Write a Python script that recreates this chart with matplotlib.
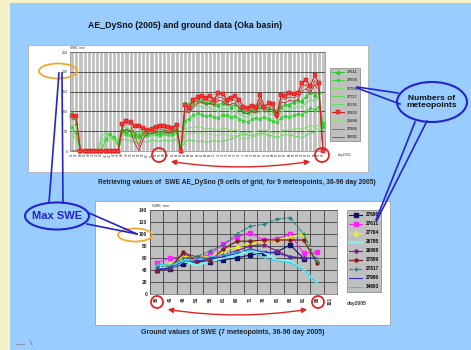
import matplotlib.pyplot as plt
from matplotlib.patches import Rectangle, Ellipse, FancyArrowPatch

plt.rcParams['font.family'] = ['Liberation Sans', 'DejaVu Sans']

W, H = 471, 350

# ---- upper chart: AE_DySno SWE, days 36-96 of 2005 ----
top_days = list(range(36, 97))
top_names = ['27611', '27606', '27704', '27717', '26795', '27603', '26898', '27906', '34601']

swe_27611 = [95, 70, 0, 0, 0, 0, 0, 0, 0, 0, 0, 0,
             55, 50, 52, 45, 40, 48, 45, 52, 50, 48, 52, 50, 48, 55, 0,
             120, 118, 125, 128, 126, 122, 124, 118, 116, 122, 120, 112, 118, 108, 100, 98, 104,
             106, 110, 114, 108, 104, 100, 112, 118, 116, 124, 128, 126, 138, 148, 142, 150, 62]
swe_27606 = [60, 45, 0, 0, 0, 0, 0, 0, 30, 42, 35, 20,
             48, 44, 40, 38, 35, 42, 40, 46, 44, 40, 45, 44, 42, 48, 0,
             75, 82, 90, 95, 92, 88, 90, 86, 84, 92, 90, 85, 88, 80, 76, 74, 80,
             84, 82, 86, 80, 76, 72, 84, 88, 86, 90, 94, 92, 100, 108, 104, 112, 70]
swe_27704 = [50, 40, 0, 0, 0, 0, 0, 20, 38, 45, 30, 15,
             40, 38, 35, 32, 30, 36, 34, 40, 38, 35, 40, 38, 36, 42, 0,
             55, 60, 58, 62, 60, 56, 58, 54, 52, 58, 56, 50, 54, 48, 45, 44, 48,
             50, 52, 55, 50, 46, 44, 50, 54, 52, 56, 58, 55, 60, 64, 62, 66, 75]
swe_27717 = [0, 0, 0, 0, 0, 0, 0, 0, 0, 0, 0, 0,
             30, 28, 25, 22, 20, 25, 22, 28, 26, 24, 28, 26, 25, 30, 0,
             25, 28, 26, 24, 25, 22, 24, 26, 24, 25, 28, 30, 35, 40, 42, 40, 38,
             42, 45, 44, 40, 38, 35, 38, 42, 40, 38, 36, 34, 40, 45, 48, 50, 55]
swe_26795 = [40, 30, 0, 0, 0, 0, 0, 35, 48, 40, 25, 30,
             60, 58, 55, 50, 46, 54, 50, 60, 62, 58, 62, 58, 55, 65, 0,
             95, 100, 110, 115, 112, 108, 110, 104, 100, 108, 106, 98, 102, 94, 88, 86, 92,
             96, 98, 102, 96, 92, 88, 98, 104, 102, 108, 112, 110, 120, 130, 126, 135, 65]
swe_27603 = [88, 88, 0, 0, 0, 0, 0, 0, 0, 0, 0, 0,
             68, 76, 72, 62, 64, 58, 52, 56, 60, 64, 62, 60, 58, 66, 0,
             116, 108, 130, 136, 140, 134, 138, 130, 146, 144, 130, 134, 140, 128, 112, 108, 114,
             110, 141, 112, 120, 118, 91, 142, 140, 146, 144, 146, 172, 180, 163, 192, 172, 0]
swe_26898 = [0, 0, 0, 0, 0, 0, 0, 0, 20, 32, 28, 10,
             45, 42, 38, 35, 30, 38, 36, 42, 40, 38, 42, 40, 38, 45, 0,
             40, 45, 44, 48, 46, 42, 44, 40, 38, 44, 42, 36, 40, 34, 30, 32, 35,
             38, 40, 42, 38, 34, 32, 38, 42, 40, 44, 46, 44, 50, 55, 52, 58, 60]
swe_27906 = [80, 80, 0, 0, 0, 0, 0, 0, 0, 0, 0, 0,
             60, 70, 66, 40, 10, 45, 50, 48, 52, 56, 54, 50, 52, 58, 0,
             106, 100, 120, 128, 132, 126, 128, 122, 136, 134, 122, 126, 130, 118, 104, 100, 106,
             102, 130, 104, 112, 110, 84, 132, 130, 136, 134, 138, 160, 168, 152, 178, 162, 0]
swe_34601 = [0, 0, 0, 0, 0, 0, 0, 0, 0, 0, 0, 0,
             50, 55, 50, 20, 0, 30, 45, 44, 48, 50, 48, 46, 48, 52, 0,
             100, 96, 112, 120, 124, 118, 120, 116, 128, 126, 116, 118, 122, 110, 96, 94, 100,
             96, 122, 98, 106, 104, 80, 124, 122, 128, 126, 130, 150, 158, 146, 168, 155, 0]
top_values = [swe_27611, swe_27606, swe_27704, swe_27717, swe_26795,
              swe_27603, swe_26898, swe_27906, swe_34601]
top_yticks = [0, 50, 100, 150, 200, 250]

# ---- lower chart: ground SWE ----
bot_days = [36, 41, 46, 51, 56, 61, 66, 71, 76, 81, 86, 91, 96, 101]
bot_names = ['27606', '27611', '27704', '26795', '26898', '27809', '27817', '27906', '34603']
g_27606 = [40, 42, 50, 54, 54, 57, 60, 65, 68, 70, 82, 59]
g_27611 = [52, 60, 62, 60, 66, 84, 95, 102, 90, 92, 100, 68, 70]
g_27704 = [45, 50, 62, 62, 62, 72, 78, 85, 88, 90, 95, 100, 55]
g_26795 = [45, 42, 55, 48, 55, 60, 65, 72, 70, 56, 55, 40, 18]
g_26898 = [38, 45, 68, 62, 60, 65, 72, 80, 82, 72, 62, 60]
g_27809 = [40, 42, 70, 55, 55, 75, 88, 88, 90, 90, 90, 90, 52]
g_27817 = [45, 47, 60, 62, 72, 82, 100, 113, 116, 125, 127, 100, 55]
g_27906 = [42, 42, 55, 55, 58, 62, 68, 75, 70, 68, 62, 60, 60]
g_34603 = [50, 48, 55, 58, 62, 65, 70, 72, 60, 55, 52, 40, 18]
bot_values = [g_27606, g_27611, g_27704, g_26795, g_26898, g_27809, g_27817, g_27906, g_34603]
bot_yticks = [0, 20, 40, 60, 80, 100, 120, 140]


def place(l, t, r, b):
    return [l / W, 1 - b / H, (r - l) / W, (b - t) / H]


fig = plt.figure(figsize=(W / 100, H / 100), dpi=100)
fig.patch.set_facecolor('#f4f2c6')

# background layer (pixel coords, y down)
bg = fig.add_axes([0, 0, 1, 1], zorder=-5)
bg.set_xlim(0, W)
bg.set_ylim(H, 0)
bg.axis('off')
bg.add_patch(Rectangle((10, 3), W - 10, H - 3, facecolor='#99ccff', edgecolor='none'))
bg.add_patch(Rectangle((28, 45), 340, 127, facecolor='white', edgecolor='#b0b0b0', lw=0.6))
bg.add_patch(Rectangle((95, 201), 295, 124, facecolor='white', edgecolor='#a0a0a0', lw=0.6))
bg.text(185, 25, 'AE_DySno (2005) and ground data (Oka basin)', ha='center', va='center',
        fontsize=6.3, weight='bold', color='#111111')
bg.text(237, 183, 'Retrieving values of  SWE AE_DySno (9 cells of grid, for 9 meteopoints, 36-96 day 2005)',
        ha='center', va='center', fontsize=4.8, weight='bold', color='#222222')
bg.text(233, 333, 'Ground values of SWE (7 meteopoints, 36-96 day 2005)', ha='center', va='center',
        fontsize=5, weight='bold', color='#222222')
bg.text(70, 47.5, 'SWE, mm', fontsize=2.3, va='center', color='#333333')
bg.text(338, 155, 'day2005', fontsize=2.5, va='center', color='#333333')
bg.text(152, 205.5, 'SWE, mm', fontsize=2.8, va='center', color='#333333')
bg.text(347, 303, 'day2005', fontsize=3.6, va='center', weight='bold', color='#333333')
bg.plot([16, 24], [344, 344], color='#8899aa', lw=0.8)
bg.plot([30, 32], [340, 345], color='#8899aa', lw=0.8)

# ---- upper chart ----
ax1 = fig.add_axes(place(70, 52, 325, 151))
ax1.set_facecolor('#c0c0c0')
xs = list(range(len(top_days)))
top_style = {
    '27611': dict(color='#33c433', marker='^', ms=2.2, lw=0.7),
    '27606': dict(color='#3fd23f', marker='s', ms=1.8, lw=0.7),
    '27704': dict(color='#7ee060', marker=None, lw=0.7),
    '27717': dict(color='#55dd55', marker=None, lw=0.7),
    '26795': dict(color='#66e066', marker=None, lw=0.7),
    '27603': dict(color='#cc2020', marker='s', ms=2.2, lw=0.8, mfc='#ff3030', mec='#aa1010', mew=0.3),
    '26898': dict(color='#88e070', marker=None, lw=0.6),
    '27906': dict(color='#dd5040', marker=None, lw=0.7),
    '34601': dict(color='#b03030', marker=None, lw=0.6),
}
order = [2, 3, 4, 6, 1, 0, 8, 7, 5]
for i in order:
    ax1.plot(xs, top_values[i], label=top_names[i], clip_on=False, **top_style[top_names[i]])
ax1.set_xlim(-0.5, len(top_days) - 0.5)
ax1.set_ylim(0, 250)
ax1.set_yticks(top_yticks)
ax1.set_yticklabels([str(v) for v in top_yticks], fontsize=2.6)
ax1.set_xticks(xs)
ax1.set_xticklabels([str(d) for d in top_days], rotation=90, fontsize=2.2)
ax1.set_xticks([i - 0.5 for i in range(len(top_days) + 1)], minor=True)
ax1.grid(which='minor', axis='x', color='white', lw=0.9)
ax1.grid(which='major', axis='y', color='#404040', lw=0.6)
ax1.set_axisbelow(True)
ax1.tick_params(which='both', length=0, pad=1.5, colors='#333333')
for s in ax1.spines.values():
    s.set_color('#808080')
    s.set_linewidth(0.5)
h, l = ax1.get_legend_handles_labels()
hl = dict(zip(l, h))
leg1 = ax1.legend([hl[n] for n in top_names], top_names, loc='upper left',
                  bbox_to_anchor=(330 / W, 1 - 68 / H), bbox_transform=fig.transFigure,
                  fontsize=2.8, labelspacing=1.05, handlelength=2.9, handletextpad=0.9,
                  borderpad=0.6, borderaxespad=0, fancybox=False, edgecolor='#666666',
                  facecolor='#c0c0c0', framealpha=1)
leg1.get_frame().set_linewidth(0.4)

# ---- lower chart ----
ax2 = fig.add_axes(place(150, 210, 337, 294))
ax2.set_facecolor('#c0c0c0')
bot_style = {
    '27606': dict(color='#101070', marker='s', ms=2.2, lw=0.8),
    '27611': dict(color='#ff20ff', marker='s', ms=3, lw=0.8),
    '27704': dict(color='#f0f020', marker='^', ms=3, lw=0.8),
    '26795': dict(color='#80f0f0', marker=None, lw=1.8),
    '26898': dict(color='#802080', marker='*', ms=3, lw=0.8),
    '27809': dict(color='#802020', marker='o', ms=2.2, lw=0.9),
    '27817': dict(color='#208080', marker='+', ms=2.5, lw=0.8, ls=(0, (3, 1))),
    '27906': dict(color='#3030d0', marker=None, lw=0.8),
    '34603': dict(color='#30c8e0', marker=None, lw=0.8),
}
for name, vals in zip(bot_names, bot_values):
    ax2.plot(range(len(vals)), vals, label=name, **bot_style[name])
ax2.set_xlim(-0.5, len(bot_days) - 0.5)
ax2.set_ylim(0, 140)
ax2.set_yticks(bot_yticks)
ax2.set_yticklabels([str(v) for v in bot_yticks], fontsize=3.5, weight='bold')
ax2.set_xticks(range(len(bot_days)))
ax2.set_xticklabels([str(d) for d in bot_days], rotation=90, fontsize=3.4, weight='bold')
ax2.set_xticks([i - 0.5 for i in range(len(bot_days) + 1)], minor=True)
ax2.grid(which='minor', axis='x', color='#404040', lw=0.6)
ax2.grid(which='major', axis='y', color='#404040', lw=0.6)
ax2.set_axisbelow(True)
ax2.tick_params(which='both', length=0, pad=2, colors='#222222')
for s in ax2.spines.values():
    s.set_color('#606060')
    s.set_linewidth(0.5)
leg2 = ax2.legend(loc='upper left', bbox_to_anchor=(347 / W, 1 - 210 / H),
                  bbox_transform=fig.transFigure, fontsize=3.4, labelspacing=0.85,
                  handlelength=2.6, handletextpad=0.8, borderpad=0.5, borderaxespad=0,
                  fancybox=False, edgecolor='#666666', facecolor='#c0c0c0', framealpha=1)
leg2.get_frame().set_linewidth(0.4)
for t in leg2.get_texts():
    t.set_weight('bold')

# ---- annotations overlay ----
ov = fig.add_axes([0, 0, 1, 1], zorder=10)
ov.set_xlim(0, W)
ov.set_ylim(H, 0)
ov.axis('off')
blue = '#2424c8'
orange = '#f0a830'
red = '#e02424'

ov.add_patch(Ellipse((58, 71), 38, 15, fill=False, edgecolor=orange, lw=1.3))
ov.add_patch(Ellipse((135, 235), 34, 13, fill=False, edgecolor=orange, lw=1.3))
for cx, cy, r in [(159, 155, 14), (322, 155, 14), (157, 302, 12), (318, 302, 12)]:
    ov.add_patch(Ellipse((cx, cy), r, r, fill=False, edgecolor=red, lw=1.3))
ov.add_patch(FancyArrowPatch((168, 161), (313, 161), arrowstyle='<|-|>,head_length=3,head_width=1.5',
                             connectionstyle='arc3,rad=0.08', color=red, lw=1.0))
ov.add_patch(FancyArrowPatch((165, 309), (310, 309), arrowstyle='<|-|>,head_length=3,head_width=1.5',
                             connectionstyle='arc3,rad=0.08', color=red, lw=1.0))

ov.add_patch(Ellipse((57, 216), 64, 27, fill=False, edgecolor=blue, lw=1.5))
ov.text(57, 216, 'Max SWE', ha='center', va='center', fontsize=8, weight='bold', color=blue)
ov.plot([49, 59], [203, 73], color=blue, lw=1.2)
ov.plot([63, 62], [203, 73], color=blue, lw=1.2)
ov.plot([89, 137], [213, 234], color=blue, lw=1.2)
ov.plot([87, 137], [224, 234], color=blue, lw=1.2)

ov.add_patch(Ellipse((432, 102), 70, 40, fill=False, edgecolor=blue, lw=1.5))
ov.text(432, 102, 'Numbers of\nmeteopoints', ha='center', va='center', fontsize=6,
        weight='bold', color='#111111', linespacing=1.1)
ov.plot([357, 398], [87, 93], color=blue, lw=1.2)
ov.plot([357, 400], [88, 104], color=blue, lw=1.2)
ov.plot([415, 376], [122, 220], color=blue, lw=1.2)
ov.plot([427, 377], [121, 220], color=blue, lw=1.2)

fig.savefig('out.png', dpi=100)
